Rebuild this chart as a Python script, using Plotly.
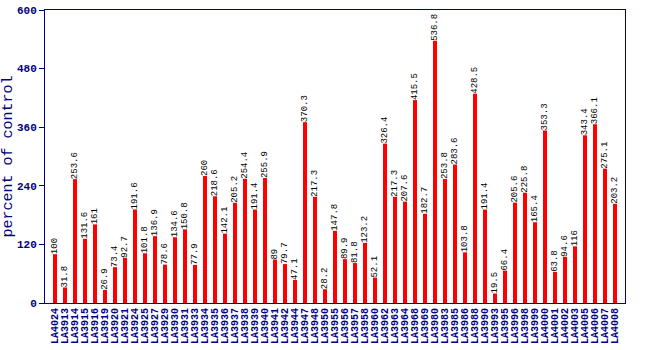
import plotly.graph_objects as go

lines = ["LA4024", "LA3913", "LA3914", "LA3915", "LA3916", "LA3919", "LA3920", "LA3921",
         "LA3924", "LA3925", "LA3927", "LA3929", "LA3930", "LA3931", "LA3933", "LA3934",
         "LA3935", "LA3936", "LA3937", "LA3938", "LA3939", "LA3940", "LA3941", "LA3942",
         "LA3944", "LA3947", "LA3948", "LA3950", "LA3955", "LA3956", "LA3957", "LA3958",
         "LA3960", "LA3962", "LA3963", "LA3964", "LA3968", "LA3969", "LA3980", "LA3983",
         "LA3985", "LA3986", "LA3988", "LA3990", "LA3993", "LA3995", "LA3996", "LA3998",
         "LA3999", "LA4000", "LA4001", "LA4002", "LA4003", "LA4005", "LA4006", "LA4007",
         "LA4008"]
percent = [100, 31.8, 253.6, 131.6, 161, 26.9, 73.4, 92.7, 191.6, 101.8, 136.9, 78.6,
           134.6, 150.8, 77.9, 260, 218.6, 142.1, 205.2, 254.4, 191.4, 255.9, 89, 79.7,
           47.1, 370.3, 217.3, 28.2, 147.8, 89.9, 81.8, 123.2, 52.1, 326.4, 217.3, 207.6,
           415.5, 182.7, 536.8, 253.8, 283.6, 103.8, 428.5, 191.4, 19.5, 66.4, 205.6, 225.8,
           165.4, 353.3, 63.8, 94.6, 116, 343.4, 366.1, 275.1, 203.2]
y_ticks = [0, 120, 240, 360, 480, 600]

navy = "#000080"
mono = "Liberation Mono"

fig = go.Figure(go.Bar(
    x=lines, y=percent,
    marker=dict(color="#ff0000", line=dict(width=0)),
    text=[f"{v:g}" for v in percent],
    textposition="outside", textangle=-90, constraintext="none",
    textfont=dict(family=mono, size=9, color="black"),
    cliponaxis=False,
))

fig.update_layout(
    width=650, height=350,
    margin=dict(l=45, r=25, t=10, b=47, autoexpand=False),
    paper_bgcolor="white", plot_bgcolor="white",
    bargap=0.6, showlegend=False,
    xaxis=dict(tickangle=-90, automargin=False, tickmode="array", tickvals=lines,
               range=[-1, len(lines)],
               tickfont=dict(family=mono, size=10, color=navy, weight="bold"),
               showline=True, linecolor=navy, linewidth=1, mirror=True,
               ticks="", showgrid=False),
    yaxis=dict(range=[0, 600], tickvals=y_ticks, automargin=False,
               tickfont=dict(family=mono, size=11, color=navy, weight="bold"),
               showline=True, linecolor=navy, linewidth=1, mirror=True,
               ticks="outside", ticklen=5, tickcolor=navy, showgrid=False, zeroline=False,
               title=dict(text="percent of control", standoff=6,
                          font=dict(family=mono, size=15, color=navy))),
)

fig.write_html("out.html")
